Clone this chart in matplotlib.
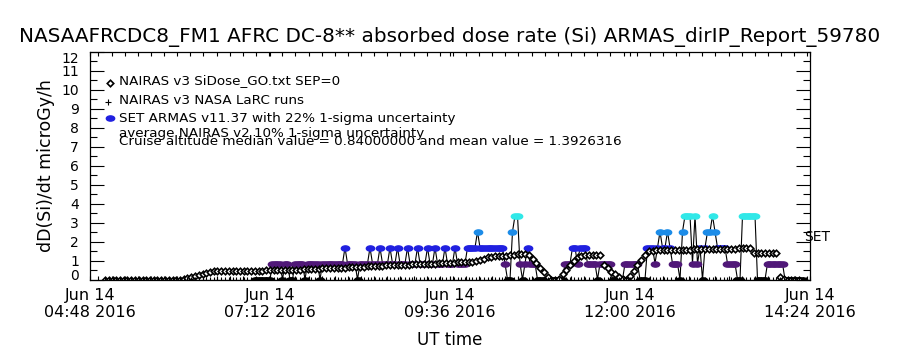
import numpy as np
import pandas as pd
import matplotlib
matplotlib.use("Agg")
import matplotlib.pyplot as plt
import matplotlib.dates as mdates
from matplotlib.path import Path
from matplotlib.transforms import Affine2D

# NAIRAS v3 SiDose model, one value every 3 min from 05:00 UT
model_start = "2016-06-14 05:00"
model_dose = [
    0.0, 0.0, 0.0, 0.0, 0.0, 0.0, 0.0, 0.0, 0.0, 0.0,
    0.0, 0.0, 0.0, 0.0, 0.0, 0.0, 0.0, 0.0, 0.0, 0.0,
    0.0, 0.03, 0.08, 0.13, 0.19, 0.25, 0.31, 0.36, 0.41, 0.44,
    0.45, 0.45, 0.46, 0.46, 0.46, 0.46, 0.46, 0.47, 0.47, 0.47,
    0.47, 0.47, 0.47, 0.48, 0.48, 0.48, 0.48, 0.48, 0.49, 0.49,
    0.50, 0.51, 0.52, 0.53, 0.54, 0.55, 0.56, 0.57, 0.58, 0.59,
    0.60, 0.61, 0.62, 0.62, 0.63, 0.64, 0.65, 0.66, 0.67, 0.68,
    0.70, 0.71, 0.72, 0.72, 0.73, 0.74, 0.75, 0.76, 0.77, 0.77,
    0.78, 0.79, 0.80, 0.80, 0.81, 0.82, 0.83, 0.83, 0.84, 0.85,
    0.86, 0.87, 0.88, 0.89, 0.90, 0.90, 0.91, 0.91, 0.92, 0.95,
    1.02, 1.10, 1.16, 1.20, 1.22, 1.23, 1.25, 1.26, 1.28, 1.30,
    1.32, 1.34, 1.36,
    1.30, 1.10, 0.86, 0.62, 0.38, 0.15, 0.0,
    0.0, 0.05, 0.28, 0.52, 0.76, 1.00, 1.20,
    1.26, 1.27, 1.27, 1.28, 1.28, 1.27,
    0.75, 0.58, 0.42, 0.27, 0.12, 0.02, 0.0,
    0.18, 0.46, 0.76, 1.05, 1.30, 1.50,
    1.52, 1.53, 1.53, 1.54, 1.54, 1.55, 1.55, 1.56, 1.56, 1.57,
    1.57, 1.58, 1.58, 1.59, 1.59, 1.60, 1.60, 1.61, 1.61, 1.62,
    1.62, 1.63, 1.63, 1.64, 1.64, 1.65, 1.65,
    1.40, 1.40, 1.39, 1.39, 1.38, 1.38, 1.37,
    0.15, 0.05, 0.0, 0.0, 0.0, 0.0,
]

# NAIRAS v3 NASA LaRC runs: every point reads 0, one every 3 min
larc_start = "2016-06-14 05:00"
larc_count = 189
larc_dose = [0.0] * larc_count

# ARMAS SET readings, one every 2 min from 07:00 UT, as level index
armas_start = "2016-06-14 07:00"
armas_levels = [0.0, 0.84, 1.68, 2.52, 3.36]
armas_colors = ["black", "#501878", "#2020e0", "#1c8ce8", "#30e8e8"]
armas_code = [
    0, 0, 0, 0, 0, 0, 0, 1, 1, 1, 1, 0, 1, 1, 0, 0, 1, 1, 1, 1,
    0, 1, 1, 1, 1, 1, 0, 1, 1, 1, 1, 1, 1, 1, 1, 1, 2, 1, 1, 1,
    1, 0, 1, 1, 1, 1, 2, 1, 1, 1, 2, 1, 1, 1, 2, 1, 1, 2, 1, 1,
    1, 2, 1, 1, 1, 2, 1, 1, 1, 2, 1, 1, 2, 1, 1, 1, 2, 1, 1, 1,
    2, 1, 1, 1, 1, 2, 2, 2, 2, 3, 2, 2, 2, 2, 2, 2, 2, 2, 2, 2,
    1, 0, 0, 3, 4, 4, 1, 0, 1, 2, 1, 1, 1, 0, 0, 0, 0, 0, 0, 0,
    0, 0, 0, 0, 1, 1, 1, 2, 2, 1, 2, 2, 2, 1, 1, 1, 1, 0, 1, 1,
    1, 1, 1, 0, 0, 0, 0, 0, 1, 1, 1, 1, 1, 1, 0, 0, 0, 2, 2, 2,
    1, 2, 3, 2, 2, 3, 2, 1, 1, 1, 0, 3, 4, 4, 4, 1, 4, 1, 2, 0,
    2, 3, 3, 4, 3, 2, 2, 2, 2, 1, 1, 1, 1, 0, 0, 4, 4, 4, 4, 4,
    4, 0, 0, 0, 0, 1, 1, 1, 1, 1, 1, 1, 0, 0, 0, 0, 0, 0, 0, 0,
]

title = "NASAAFRCDC8_FM1 AFRC DC-8** absorbed dose rate (Si) ARMAS_dirIP_Report_59780"
legend_lines = [
    "NAIRAS v3 SiDose_GO.txt SEP=0",
    "NAIRAS v3 NASA LaRC runs",
    "SET ARMAS v11.37 with 22% 1-sigma uncertainty",
]
note_lines = [
    "average NAIRAS v2 10% 1-sigma uncertainty",
    "Cruise altitude median value = 0.84000000 and mean value = 1.3926316",
]

model_t = pd.date_range(model_start, periods=len(model_dose), freq="3min")
larc_t = pd.date_range(larc_start, periods=larc_count, freq="3min")
armas_t = pd.date_range(armas_start, periods=len(armas_code), freq="2min")
code = np.array(armas_code)
armas_dose = np.array(armas_levels)[code]

# flattened filled circle like the IDL user symbol
ellipse = Path.unit_circle().transformed(Affine2D().scale(1.6, 1.0))

fig = plt.figure(figsize=(9, 3.5), dpi=100)
ax = fig.add_axes([0.1, 0.2014, 0.8, 0.6514])

ax.plot(armas_t, armas_dose, color="black", lw=0.8, zorder=2)
for k in range(len(armas_levels)):
    m = code == k
    ax.plot(armas_t[m], armas_dose[m], ls="none", marker=ellipse, ms=6,
            color=armas_colors[k], mec=armas_colors[k], zorder=3)
ax.plot(model_t, model_dose, ls="none", marker="D", ms=3.3, mfc="white",
        mec="black", mew=1.2, zorder=4)
ax.plot(larc_t, larc_dose, ls="none", marker="+", ms=5, color="black",
        mew=0.8, zorder=4)

x0 = pd.Timestamp("2016-06-14 04:48")
x1 = pd.Timestamp("2016-06-14 14:24")
ax.set_xlim(x0, x1)
ax.set_ylim(0, 12)

major = pd.date_range(x0, x1, freq="144min")
ax.set_xticks(major)
ax.xaxis.set_major_formatter(mdates.DateFormatter("%b %d\n%H:%M %Y"))
minor = pd.date_range(x0 + pd.Timedelta(minutes=6.8), x1, freq="630s")
ax.set_xticks(minor, minor=True)
ax.tick_params(axis="x", which="both", direction="in", top=True,
               length=3, width=0.8, labelsize=11.5, pad=6)

ax.set_yticks(range(13))
ax.set_yticks(np.arange(0.5, 12, 1.0), minor=True)
ax.tick_params(axis="y", which="major", direction="in", right=True,
               length=10, width=0.8, labelsize=10, pad=8)
ax.tick_params(axis="y", which="minor", direction="in", right=True,
               length=5, width=0.8)
ticks = ax.yaxis.get_major_ticks()
ticks[0].label1.set_va("baseline")
ticks[-1].label1.set_va("top")

for s in ax.spines.values():
    s.set_linewidth(0.9)

ax.set_ylabel("dD(Si)/dt microGy/h", fontsize=12.5)
ax.yaxis.set_label_coords(-0.049, 0.5)
ax.set_xlabel("UT time", fontsize=12, va="center")
ax.xaxis.set_label_coords(0.5, -0.265)

fig.text(0.5, 1 - 37 / 350, title, ha="center", va="center", fontsize=14.4)

# legend drawn by hand, the way the original lays it out
leg_y = [81, 100, 118]
fig.lines.append(plt.Line2D([110 / 900], [1 - 83 / 350], marker="D", ms=3.3,
                            mfc="white", mec="black", mew=1.2,
                            transform=fig.transFigure))
fig.lines.append(plt.Line2D([108 / 900], [1 - 102 / 350], marker="+", ms=5,
                            color="black", mew=0.8, transform=fig.transFigure))
fig.lines.append(plt.Line2D([110 / 900], [1 - 118 / 350], marker=ellipse, ms=6,
                            color=armas_colors[2], transform=fig.transFigure))
for y, s in zip(leg_y, legend_lines):
    fig.text(119 / 900, 1 - y / 350, s, va="center", fontsize=9.7)
for y, s in zip([133, 141.5], note_lines):
    fig.text(119 / 900, 1 - y / 350, s, va="center", fontsize=9.7)

fig.text(804 / 900, 1 - 237 / 350, "SET", va="center", fontsize=10)

fig.savefig("out.png", dpi=100)
